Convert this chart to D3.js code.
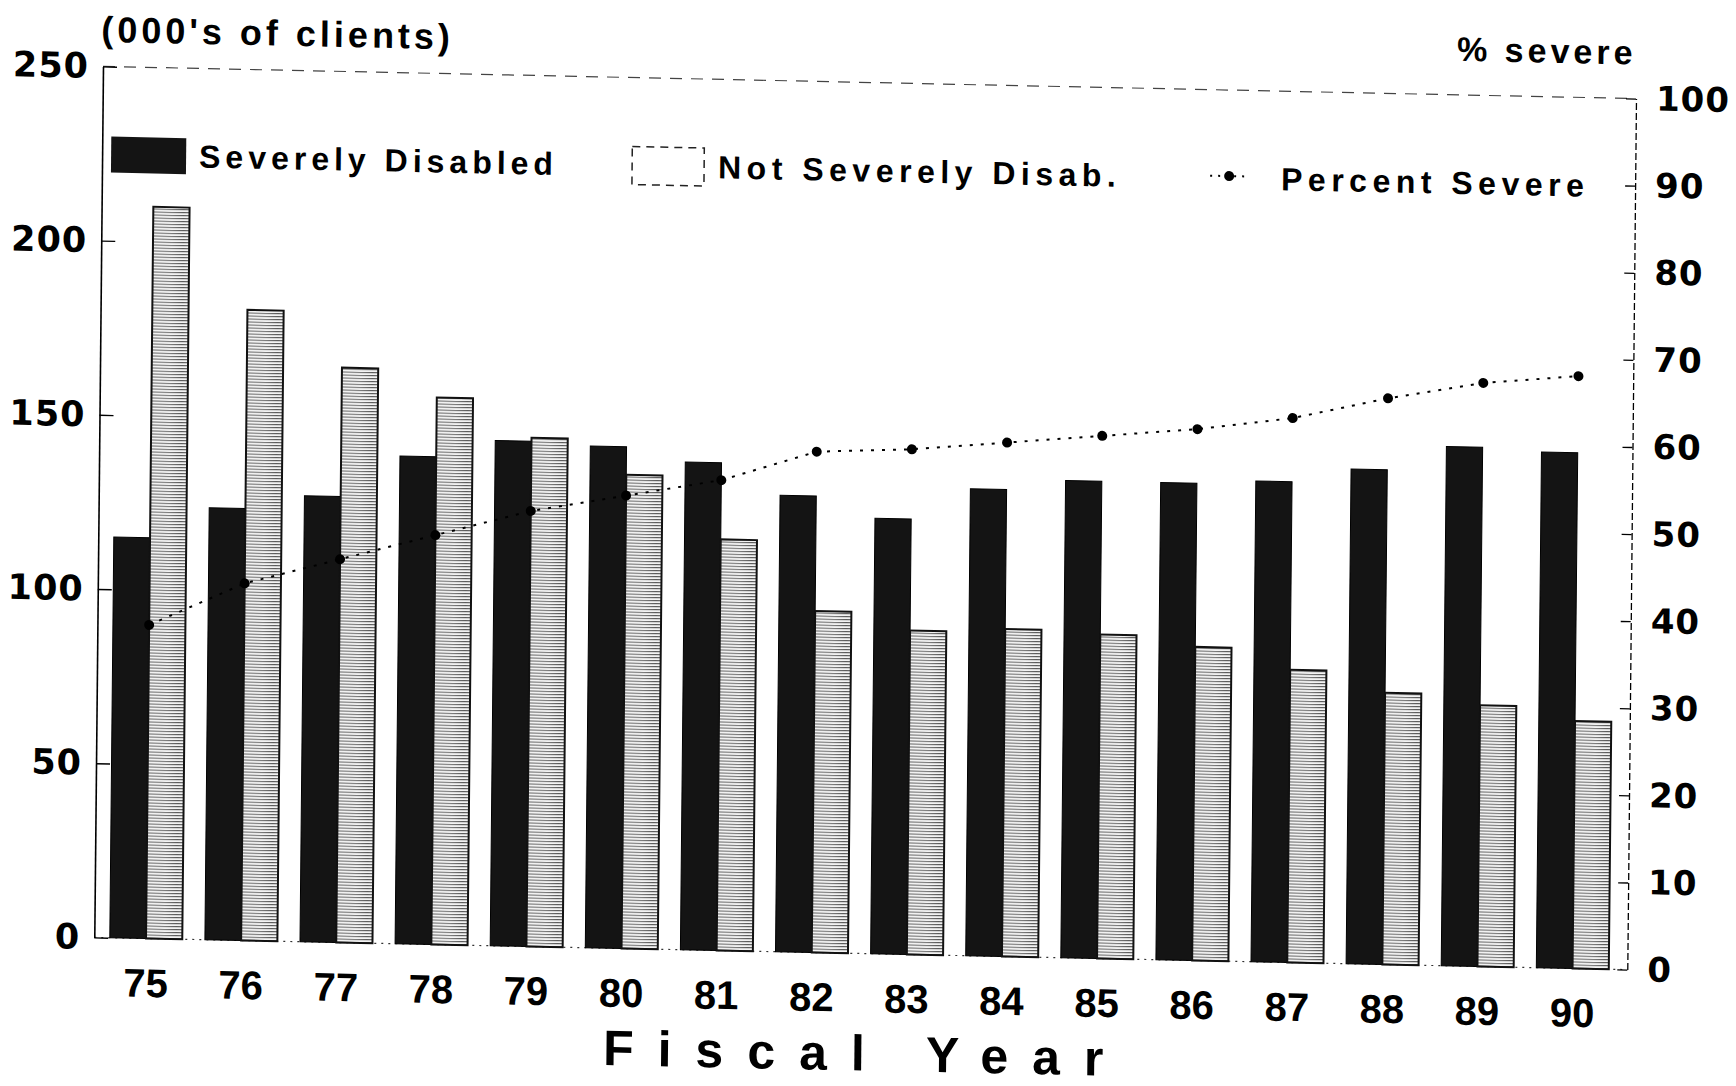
<!DOCTYPE html>
<meta charset="utf-8">
<body style="margin:0;background:#fff">

<!-- Load d3.js -->
<script src="https://d3js.org/d3.v7.min.js"></script>

<div id="my_dataviz"></div>

<script>

// data
var years = ["75", "76", "77", "78", "79", "80", "81", "82", "83", "84", "85", "86", "87", "88", "89", "90"];
var severe = [115, 124, 128, 140, 145, 144, 140, 131, 125, 134, 137, 137, 138, 142, 149, 148];
var notSevere = [210, 181, 165, 157, 146, 136, 118, 98, 93, 94, 93, 90, 84, 78, 75, 71];
var pctSevere = [36, 41, 44, 47, 50, 52, 54, 57.5, 58, 59, 60, 61, 62.5, 65, 67, 68];
var leftTicks = [0, 50, 100, 150, 200, 250];
var rightTicks = [0, 10, 20, 30, 40, 50, 60, 70, 80, 90, 100];

var width = 1736, height = 1086;
var plotW = 1533, plotH = 871;
var sans = "'Liberation Sans', Arial, sans-serif";
var wide = "'DejaVu Sans', sans-serif";

var svg = d3.select("#my_dataviz")
  .append("svg")
    .attr("width", width)
    .attr("height", height)
    .style("display", "block");

// hatch for the light bars
var defs = svg.append("defs");
var hatch = defs.append("pattern")
    .attr("id", "hatch")
    .attr("patternUnits", "userSpaceOnUse")
    .attr("width", 6)
    .attr("height", 3);
hatch.append("rect").attr("width", 6).attr("height", 3).attr("fill", "#f2f2f2");
hatch.append("line")
    .attr("x1", 0).attr("x2", 6).attr("y1", 0.5).attr("y2", 0.5)
    .attr("stroke", "#5a5a5a").attr("stroke-width", 1);

// the scan is a bit tilted, so the whole chart gets the same shear
var g = svg.append("g")
    .attr("transform", "translate(103,66.4) matrix(1,0.021,-0.01,1,0,0)");

// scales
var x = d3.scaleBand()
  .domain(years)
  .range([15.5, 1514.5])
  .paddingInner(0.238);
var x1 = d3.scaleBand()
  .domain(["severe", "not"])
  .range([0, x.bandwidth()]);
var y = d3.scaleLinear().domain([0, 250]).range([plotH, 0]);
var y2 = d3.scaleLinear().domain([0, 100]).range([plotH, 0]);

// frame: top dashed line and dotted baseline
g.append("line")
    .attr("x1", 0).attr("x2", plotW).attr("y1", 0).attr("y2", 0)
    .attr("stroke", "#444").attr("stroke-width", 1.2)
    .attr("stroke-dasharray", "12,9");
g.append("line")
    .attr("x1", 0).attr("x2", plotW).attr("y1", plotH).attr("y2", plotH)
    .attr("stroke", "#333").attr("stroke-width", 1.2)
    .attr("stroke-dasharray", "2,5");

// bars
var rows = years.map(function(yr, i) {
  return {year: yr, severe: severe[i], not: notSevere[i], pct: pctSevere[i]};
});

g.selectAll("rect.sev")
  .data(rows)
  .enter()
  .append("rect")
    .attr("class", "sev")
    .attr("x", function(d) { return x(d.year) + x1("severe"); })
    .attr("y", function(d) { return y(d.severe); })
    .attr("width", x1.bandwidth())
    .attr("height", function(d) { return y(0) - y(d.severe); })
    .attr("fill", "#141414")
    .attr("stroke", "#000")
    .attr("stroke-width", 1);

g.selectAll("rect.not")
  .data(rows)
  .enter()
  .append("rect")
    .attr("class", "not")
    .attr("x", function(d) { return x(d.year) + x1("not"); })
    .attr("y", function(d) { return y(d.not); })
    .attr("width", x1.bandwidth())
    .attr("height", function(d) { return y(0) - y(d.not); })
    .attr("fill", "url(#hatch)")
    .attr("stroke", "#111")
    .attr("stroke-width", 2);

// percent severe line + dots
var line = d3.line()
  .x(function(d) { return x(d.year) + x.bandwidth() / 2; })
  .y(function(d) { return y2(d.pct); });
g.append("path")
    .datum(rows)
    .attr("d", line)
    .attr("fill", "none")
    .attr("stroke", "#000")
    .attr("stroke-width", 2)
    .attr("stroke-dasharray", "3,8");
g.selectAll("circle.pct")
  .data(rows)
  .enter()
  .append("circle")
    .attr("class", "pct")
    .attr("cx", function(d) { return x(d.year) + x.bandwidth() / 2; })
    .attr("cy", function(d) { return y2(d.pct); })
    .attr("r", 5)
    .attr("fill", "#000");

// left axis
var axL = g.append("g")
  .call(d3.axisLeft(y).tickValues(leftTicks).tickSizeInner(-14).tickSizeOuter(0).tickPadding(14));
axL.select(".domain").attr("stroke", "#000").attr("stroke-width", 1.6);
axL.selectAll(".tick line").attr("stroke", "#000").attr("stroke-width", 1.4);
axL.selectAll("text")
    .attr("font-family", wide).attr("font-weight", "bold")
    .attr("font-size", 35).attr("letter-spacing", 1).attr("fill", "#000");

// right axis
var axR = g.append("g")
  .attr("transform", "translate(" + plotW + ",0)")
  .call(d3.axisRight(y2).tickValues(rightTicks).tickSizeInner(-10).tickSizeOuter(0).tickPadding(20));
axR.select(".domain").attr("stroke", "#000").attr("stroke-width", 1.3).attr("stroke-dasharray", "7,3");
axR.selectAll(".tick line").attr("stroke", "#000").attr("stroke-width", 1.3);
axR.selectAll("text")
    .attr("font-family", wide).attr("font-weight", "bold")
    .attr("font-size", 34).attr("letter-spacing", 1).attr("fill", "#000");

// x axis
var axB = g.append("g")
  .attr("transform", "translate(0," + plotH + ")")
  .call(d3.axisBottom(x).tickSize(0).tickPadding(30));
axB.select(".domain").remove();
axB.selectAll("text")
    .attr("font-family", sans).attr("font-weight", "bold")
    .attr("font-size", 40).attr("fill", "#000");

// axis titles
g.append("text")
    .attr("x", -2).attr("y", -37)
    .attr("dominant-baseline", "central")
    .attr("font-family", sans).attr("font-weight", "bold")
    .attr("font-size", 36).attr("letter-spacing", 4)
    .text("(000's of clients)");
g.append("text")
    .attr("x", plotW).attr("y", -46)
    .attr("text-anchor", "end")
    .attr("dominant-baseline", "central")
    .attr("font-family", sans).attr("font-weight", "bold")
    .attr("font-size", 34).attr("letter-spacing", 4)
    .text("% severe");
g.append("text")
    .attr("x", 772).attr("y", plotH + 100)
    .attr("text-anchor", "middle")
    .attr("dominant-baseline", "central")
    .attr("font-family", sans).attr("font-weight", "bold")
    .attr("font-size", 50).attr("letter-spacing", 24)
    .text("Fiscal Year");

// legend
var legY = 88;
g.append("rect")
    .attr("x", 9).attr("y", legY - 18).attr("width", 75).attr("height", 36)
    .attr("fill", "#141414");
g.append("text")
    .attr("x", 97).attr("y", legY)
    .attr("dominant-baseline", "central")
    .attr("font-family", sans).attr("font-weight", "bold")
    .attr("font-size", 32).attr("letter-spacing", 5)
    .text("Severely Disabled");
g.append("rect")
    .attr("x", 530).attr("y", legY - 19).attr("width", 72).attr("height", 38)
    .attr("fill", "#fff")
    .attr("stroke", "#222").attr("stroke-width", 1.5)
    .attr("stroke-dasharray", "8,6");
g.append("text")
    .attr("x", 616).attr("y", legY)
    .attr("dominant-baseline", "central")
    .attr("font-family", sans).attr("font-weight", "bold")
    .attr("font-size", 32).attr("letter-spacing", 5.5)
    .text("Not Severely Disab.");
g.append("line")
    .attr("x1", 1108).attr("x2", 1148).attr("y1", legY - 2).attr("y2", legY - 2)
    .attr("stroke", "#000").attr("stroke-width", 2)
    .attr("stroke-dasharray", "2,6");
g.append("circle")
    .attr("cx", 1127).attr("cy", legY - 2).attr("r", 5)
    .attr("fill", "#000");
g.append("text")
    .attr("x", 1179).attr("y", legY)
    .attr("dominant-baseline", "central")
    .attr("font-family", sans).attr("font-weight", "bold")
    .attr("font-size", 32).attr("letter-spacing", 5.5)
    .text("Percent Severe");

</script>
</body>
